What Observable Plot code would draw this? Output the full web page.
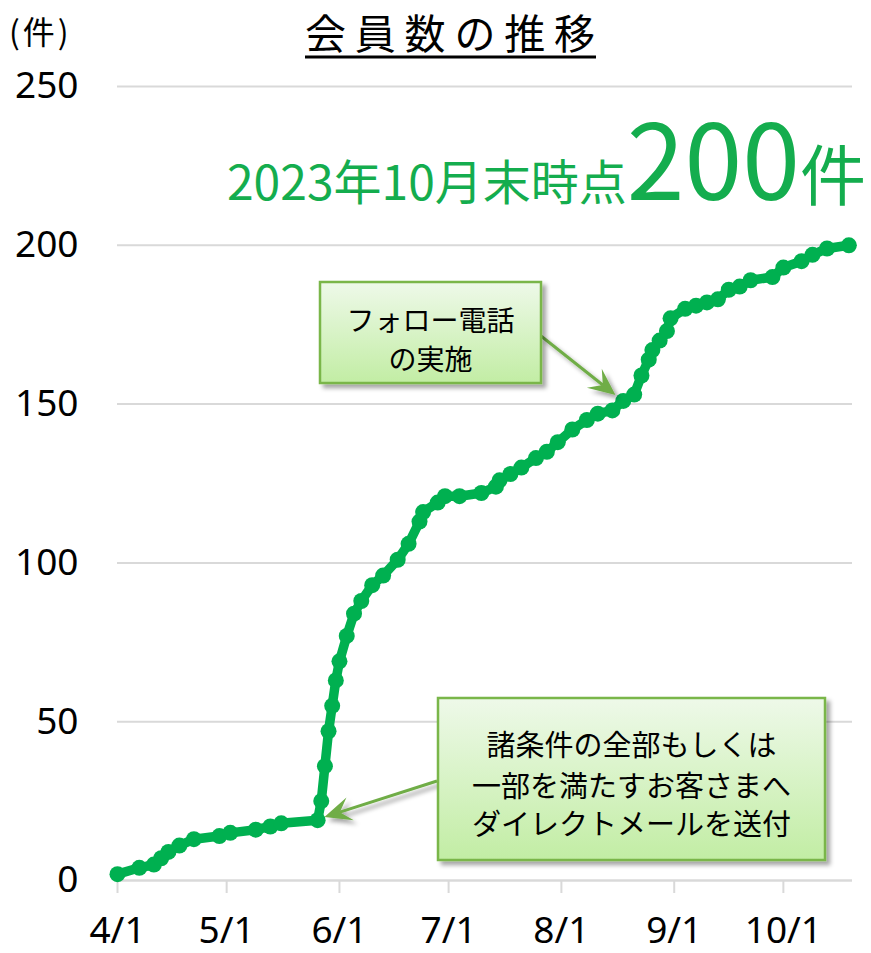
<!DOCTYPE html>
<html><head><meta charset="utf-8">
<script src="https://cdn.jsdelivr.net/npm/d3@7"></script>
<script src="https://cdn.jsdelivr.net/npm/@observablehq/plot@0.6"></script>
<style>
body{margin:0;background:#fff}
#chart{position:relative;width:871px;height:953px}
</style>
</head><body><div id="chart"></div>
<script>
// ---- data ----
const dates = [
  "2023-04-01","2023-04-07","2023-04-11","2023-04-13","2023-04-15","2023-04-18","2023-04-22","2023-04-29",
  "2023-05-02","2023-05-09","2023-05-13","2023-05-16","2023-05-26","2023-05-27","2023-05-28","2023-05-29",
  "2023-05-30","2023-05-31","2023-06-01","2023-06-03","2023-06-05","2023-06-07","2023-06-10","2023-06-13",
  "2023-06-17","2023-06-20","2023-06-23","2023-06-24","2023-06-28","2023-06-30","2023-07-04","2023-07-10",
  "2023-07-14","2023-07-15","2023-07-18","2023-07-21","2023-07-25","2023-07-28","2023-07-31","2023-08-04",
  "2023-08-08","2023-08-11","2023-08-15","2023-08-18","2023-08-21","2023-08-23","2023-08-25","2023-08-26",
  "2023-08-28","2023-08-30","2023-08-31","2023-09-04","2023-09-07","2023-09-10","2023-09-13","2023-09-16",
  "2023-09-19","2023-09-22","2023-09-28","2023-10-01","2023-10-06","2023-10-09","2023-10-13","2023-10-19"
];
const members = [
  2,4,5,7,9,11,13,14,
  15,16,17,18,19,25,36,47,
  55,63,69,77,84,88,93,96,
  101,106,113,116,119,121,121,122,
  124,126,128,130,133,135,138,142,
  145,147,148,151,153,159,164,167,
  170,173,177,180,181,182,183,186,
  187,189,190,193,195,197,199,200
];
const yTicks = [0,50,100,150,200,250];
const xTicks = ["2023-04-01","2023-05-01","2023-06-01","2023-07-01","2023-08-01","2023-09-01","2023-10-01"];
const xTickLabels = ["4/1","5/1","6/1","7/1","8/1","9/1","10/1"];
const xDomain = ["2023-04-01","2023-10-20"];
const titleText = "会員数の推移";
const unitText = "(件)";
const headlineParts = ["2023年10月末時点","200","件"];
const note1Lines = ["フォロー電話","の実施"];
const note2Lines = ["諸条件の全部もしくは","一部を満たすお客さまへ","ダイレクトメールを送付"];
const note1Target = ["2023-08-16", 152.7];
const note2Target = ["2023-05-28", 19.8];

// ---- chart ----
const GREEN = "#00b050";
const TEXTGREEN = "#14ad4e";
const data = dates.map((d,i)=>({date:new Date(d), value:members[i]}));
const xTickDates = xTicks.map(d=>new Date(d));

const chart = Plot.plot({
  width:871, height:953,
  marginTop:86, marginBottom:73, marginLeft:117, marginRight:19,
  style:{fontFamily:"'Noto Sans', 'Noto Sans CJK JP', sans-serif", fontSize:"37px", color:"#000", background:"#fff", overflow:"visible"},
  x:{type:"utc", domain:xDomain.map(d=>new Date(d))},
  y:{domain:[0,250]},
  marks:[
    Plot.gridY(yTicks,{stroke:"#d9d9d9", strokeOpacity:1, strokeWidth:2}),
    Plot.ruleY([0],{stroke:"#d9d9d9", strokeWidth:2}),
    Plot.axisY(yTicks,{tickSize:0, tickPadding:39, fontSize:37, label:null, fill:"#000"}),
    Plot.axisX(xTickDates,{tickSize:13, tickPadding:23, fontSize:37, label:null, stroke:"#d9d9d9", strokeWidth:2, fill:"#000",
      tickFormat:d=>xTickLabels[xTickDates.findIndex(t=>+t===+d)]}),
    Plot.line(data,{x:"date", y:"value", stroke:GREEN, strokeWidth:9.5, strokeLinejoin:"round"}),
    Plot.dot(data,{x:"date", y:"value", r:8, fill:GREEN})
  ]
});
document.getElementById("chart").appendChild(chart);

const xs = chart.scale("x"), ys = chart.scale("y");
const svg = d3.select(chart);
const CJK = "'Noto Sans CJK JP', sans-serif";

// defs
const defs = svg.append("defs");
const grad = defs.append("linearGradient").attr("id","boxg").attr("x1",0).attr("y1",0).attr("x2",0).attr("y2",1);
grad.append("stop").attr("offset","0%").attr("stop-color","#eef9e9");
grad.append("stop").attr("offset","100%").attr("stop-color","#c2eda4");
const filt = defs.append("filter").attr("id","shd").attr("x","-10%").attr("y","-10%").attr("width","130%").attr("height","140%");
filt.append("feDropShadow").attr("dx",4).attr("dy",4).attr("stdDeviation",2).attr("flood-color","#000").attr("flood-opacity",0.35);

// unit label
svg.append("text").attr("x",9).attr("y",44).attr("text-anchor","start").attr("font-family",CJK).attr("font-size",32)
  .attr("letter-spacing",3).attr("fill","#000").text(unitText);

// title
svg.append("text").attr("x",305).attr("y",49).attr("text-anchor","start").attr("font-family",CJK).attr("font-size",41)
  .attr("textLength",290).attr("lengthAdjust","spacing").attr("fill","#000").text(titleText);
svg.append("line").attr("x1",305).attr("x2",596).attr("y1",57).attr("y2",57).attr("stroke","#000").attr("stroke-width",3);

// headline
const hl = svg.append("text").attr("x",866).attr("y",200).attr("text-anchor","end").attr("font-family",CJK).attr("fill",TEXTGREEN);
hl.append("tspan").attr("font-size",48).text(headlineParts[0]);
hl.append("tspan").attr("font-size",104).text(headlineParts[1]);
hl.append("tspan").attr("font-size",66).text(headlineParts[2]);

// arrows
function arrow(x1,y1,x2,y2){
  const dx=x2-x1, dy=y2-y1, L=Math.hypot(dx,dy), ux=dx/L, uy=dy/L, nx=-uy, ny=ux;
  const hlen=27, hw=12;
  const bx=x2-ux*hlen, by=y2-uy*hlen, mx=x2-ux*hlen*0.6, my=y2-uy*hlen*0.6;
  const g = svg.append("g").attr("filter","url(#shd)");
  g.append("line").attr("x1",x1).attr("y1",y1).attr("x2",mx).attr("y2",my).attr("stroke","#70ad47").attr("stroke-width",3);
  g.append("path").attr("d",`M${x2},${y2}L${bx+nx*hw},${by+ny*hw}L${mx},${my}L${bx-nx*hw},${by-ny*hw}Z`).attr("fill","#70ad47");
}
arrow(541,336, xs.apply(new Date(note1Target[0])), ys.apply(note1Target[1]));
arrow(437,781, xs.apply(new Date(note2Target[0])), ys.apply(note2Target[1]));

// boxes
function box(x,y,w,h,lines,baselines,fs){
  svg.append("rect").attr("x",x).attr("y",y).attr("width",w).attr("height",h)
    .attr("fill","url(#boxg)").attr("stroke","#7ab648").attr("stroke-width",2.5).attr("filter","url(#shd)");
  lines.forEach((t,i)=>{
    svg.append("text").attr("x",x+w/2).attr("y",baselines[i]).attr("text-anchor","middle")
      .attr("font-family",CJK).attr("font-size",fs).attr("fill","#000").text(t);
  });
}
box(320,282,221,101,note1Lines,[331,370],28);
box(438,698,387,162,note2Lines,[756,797,835],29);
</script>
</body></html>
